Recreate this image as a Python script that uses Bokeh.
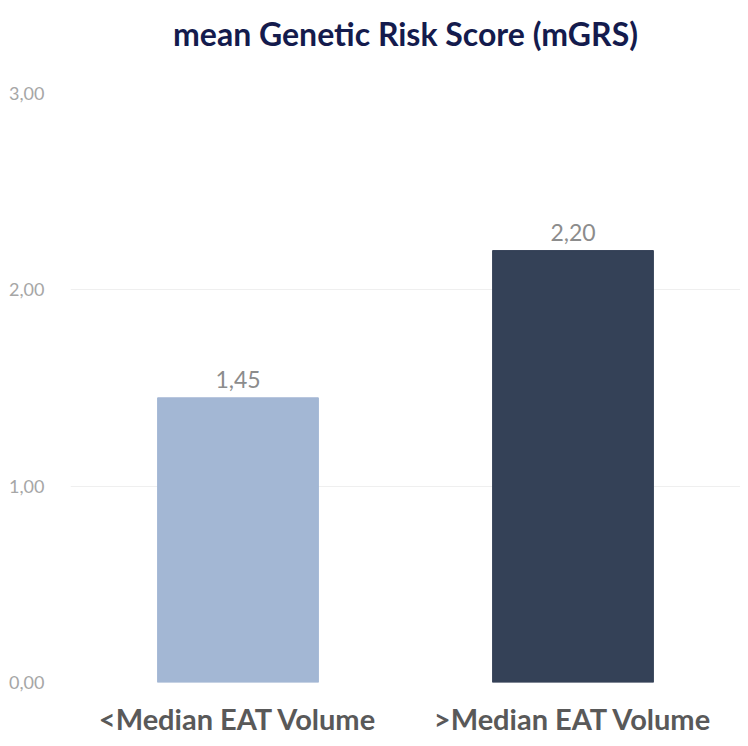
from bokeh.plotting import figure
from bokeh.models import ColumnDataSource, FactorRange, Range1d, LabelSet, CustomJSTickFormatter, FixedTicker, Title
from bokeh.core.properties import value
from bokeh.embed import file_html
from bokeh.resources import INLINE

categories = ["<Median EAT Volume", ">Median EAT Volume"]
values = [1.45, 2.20]
bar_colors = ["#A3B7D4", "#344157"]
y_ticks = [0, 1, 2, 3]

labels = [f"{v:.2f}".replace(".", ",") for v in values]
src = ColumnDataSource(dict(cat=categories, val=values, color=bar_colors, lab=labels))

p = figure(width=740, height=738, x_range=FactorRange(factors=categories),
           y_range=Range1d(0, 3), output_backend="svg", toolbar_location=None,
           min_border_left=70, min_border_right=0, min_border_top=93, min_border_bottom=56)

# empty spacer between the title and the plot frame
p.add_layout(Title(text=" ", text_font_size="10px", standoff=26), "above")

p.title.text = "mean Genetic Risk Score (mGRS)"
p.title.align = "center"
p.title.vertical_align = "top"
p.title.text_font = "Lato"
p.title.text_font_style = "bold"
p.title.text_font_size = "32px"
p.title.text_color = "#141B4D"
p.title.standoff = 0

p.vbar(x="cat", top="val", width=0.48, color="color", source=src)

p.add_layout(LabelSet(x="cat", y="val", text="lab", source=src, text_align="center",
                      text_baseline="bottom", y_offset=10, text_font_size="23px",
                      text_color="#8C8C8C", text_font=value("Lato")))

p.outline_line_color = None
p.xgrid.grid_line_color = None
p.ygrid.grid_line_color = "#EFEFEF"
p.ygrid.ticker = FixedTicker(ticks=y_ticks)

p.yaxis.ticker = FixedTicker(ticks=y_ticks)
p.yaxis.formatter = CustomJSTickFormatter(code="return tick.toFixed(2).replace('.', ',');")
p.yaxis.axis_line_color = None
p.yaxis.major_tick_line_color = None
p.yaxis.minor_tick_line_color = None
p.yaxis.major_label_text_color = "#A6A6A6"
p.yaxis.major_label_text_font = "Lato"
p.yaxis.major_label_text_font_size = "18px"
p.yaxis.major_label_standoff = 20

p.xaxis.axis_line_color = None
p.xaxis.major_tick_line_color = None
p.xaxis.major_label_text_color = "#595959"
p.xaxis.major_label_text_font = "Lato"
p.xaxis.major_label_text_font_style = "bold"
p.xaxis.major_label_text_font_size = "29px"
p.xaxis.major_label_standoff = 12

open("out.html", "w").write(file_html(p, INLINE))
